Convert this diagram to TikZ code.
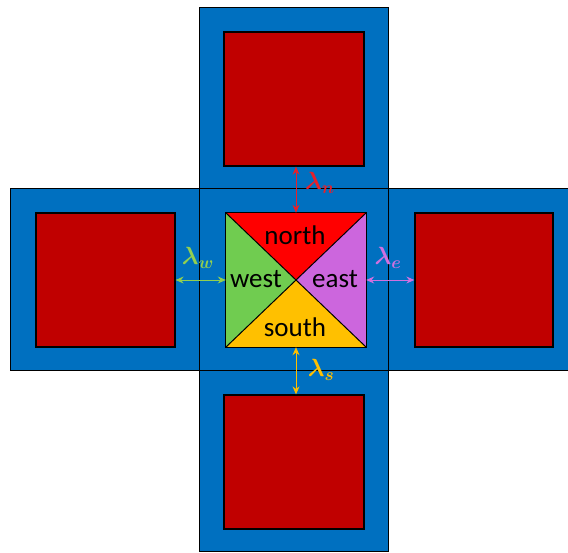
\documentclass[tikz,border=0pt]{standalone}
\usepackage{fontspec}
\setmainfont{Carlito}
\usetikzlibrary{arrows.meta}
\definecolor{cellblue}{HTML}{0070C0}
\definecolor{corered}{HTML}{C00000}
\definecolor{trinorth}{HTML}{FF0000}
\definecolor{triwest}{HTML}{70CC50}
\definecolor{trieast}{HTML}{CC66DD}
\definecolor{trisouth}{HTML}{FFC000}
\definecolor{arrn}{HTML}{E8202A}
\definecolor{arrw}{HTML}{92D050}
\definecolor{arre}{HTML}{D070E0}
\definecolor{arrs}{HTML}{FFC000}
\begin{document}
\begin{tikzpicture}[x=1pt,y=-1pt,
  cell/.style={draw=black, line width=1pt, fill=cellblue},
  core/.style={draw=black, line width=1.3pt, fill=corered, inner sep=0pt},
  gap/.style={{Stealth[length=8pt,width=7pt]}-{Stealth[length=8pt,width=7pt]}, line width=0.9pt},
  lab/.style={font=\fontsize{25}{27}\selectfont\boldmath, inner sep=0pt},
  word/.style={font=\fontsize{27}{30}\selectfont, inner sep=0pt, text=black}]
\useasboundingbox (0,0) rectangle (568,552);
\fill[white] (0,0) rectangle (568,552);
% outer cells
\draw[cell] (199,188) rectangle (388,370);
\draw[cell] (199,7) rectangle (388,188);
\draw[cell] (10,188) rectangle (199,370);
\draw[cell] (388,188) rectangle (570,370);
\draw[cell] (199,370) rectangle (388,551);
% red cores
\node[core, minimum width=140pt, minimum height=134pt] (rn) at (294,99) {};
\node[core, minimum width=139pt, minimum height=134pt] (rw) at (105.5,280) {};
\node[core, minimum width=138pt, minimum height=134pt] (re) at (484,280) {};
\node[core, minimum width=140pt, minimum height=134pt] (rs) at (294,462) {};
% central square
\node[minimum width=140pt, minimum height=134pt, inner sep=0pt] (cs) at (296,280) {};
\fill[trinorth] (cs.north west) -- (cs.north east) -- (cs.center) -- cycle;
\fill[trieast] (cs.north east) -- (cs.south east) -- (cs.center) -- cycle;
\fill[trisouth] (cs.south east) -- (cs.south west) -- (cs.center) -- cycle;
\fill[triwest] (cs.south west) -- (cs.north west) -- (cs.center) -- cycle;
\draw[line width=1.3pt] (cs.north west) rectangle (cs.south east);
\draw[line width=1pt] (cs.north west) -- (cs.south east);
\draw[line width=1pt] (cs.north east) -- (cs.south west);
\node[word] (tn) at (295,235) {north};
\node[word] (tw) at (256,279) {west};
\node[word] (te) at (335,279) {east};
\node[word] (ts) at (295,327) {south};
% gap arrows
\draw[gap, draw=arrn, fill=arrn] (rn.south -| cs.north) -- (cs.north);
\draw[gap, draw=arrw, fill=arrw] (rw.east |- cs.west) -- (cs.west);
\draw[gap, draw=arre, fill=arre] (cs.east) -- (re.west |- cs.east);
\draw[gap, draw=arrs, fill=arrs] (cs.south) -- (rs.north -| cs.south);
\node[lab, text=arrn] (ln) at (320,183) {$\lambda_n$};
\node[lab, text=arrw] (lw) at (198,258) {$\lambda_w$};
\node[lab, text=arre] (le) at (388,258) {$\lambda_e$};
\node[lab, text=arrs] (ls) at (321,370) {$\lambda_s$};
\end{tikzpicture}
\end{document}
